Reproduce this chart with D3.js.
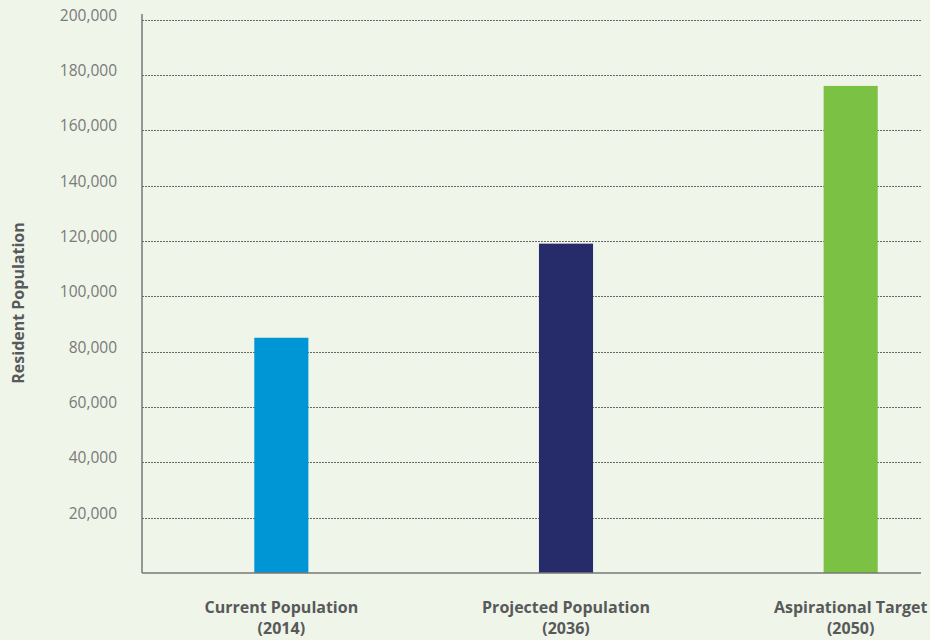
<!DOCTYPE html>
<html lang="en">
<head>
    <meta charset="utf8">
    <title>Resident Population</title>
    <script src="https://d3js.org/d3.v7.min.js"></script>
    <style>
        body { margin: 0; background: #eff5e8; }
        svg { display: block; font-family: "Open Sans", sans-serif; }
    </style>
</head>
<body>
    <svg id="chart" width="930" height="640"></svg>
    <script>
        // data
        const categories = ["Current Population", "Projected Population", "Aspirational Target"];
        const years = ["(2014)", "(2036)", "(2050)"];
        const values = [85000, 119000, 176000];
        const colors = ["#0096d6", "#262b69", "#7bc143"];
        const yTicks = [20000, 40000, 60000, 80000, 100000, 120000, 140000, 160000, 180000, 200000];

        const svg = d3.select("#chart");
        const plotLeft = 142, plotRight = 921, plotTop = 19.5, plotBottom = 573;

        const x = d3.scaleBand()
            .domain(categories)
            .range([139, 993])
            .paddingInner(0.81)
            .paddingOuter(0.405);

        const y = d3.scaleLinear()
            .domain([0, 200000])
            .range([plotBottom, plotTop]);

        // gridlines
        svg.append("g")
            .selectAll("line")
            .data(yTicks)
            .join("line")
            .attr("x1", plotLeft)
            .attr("x2", plotRight)
            .attr("y1", d => Math.round(y(d)) + 0.5)
            .attr("y2", d => Math.round(y(d)) + 0.5)
            .attr("stroke", "#666")
            .attr("stroke-width", 1)
            .attr("stroke-dasharray", "2,1");

        // tick labels
        svg.append("g")
            .selectAll("text")
            .data(yTicks)
            .join("text")
            .attr("x", 117)
            .attr("y", d => y(d) - 3)
            .attr("text-anchor", "end")
            .attr("dominant-baseline", "middle")
            .attr("fill", "#7a7a7a")
            .attr("font-size", 15.5)
            .text(d => d3.format(",")(d));

        // bars
        svg.append("g")
            .selectAll("rect")
            .data(values)
            .join("rect")
            .attr("x", (d, i) => x(categories[i]))
            .attr("width", x.bandwidth())
            .attr("y", d => y(d))
            .attr("height", d => plotBottom - y(d))
            .attr("fill", (d, i) => colors[i]);

        // axes lines
        svg.append("line")
            .attr("x1", plotLeft).attr("x2", plotLeft)
            .attr("y1", 14).attr("y2", plotBottom)
            .attr("stroke", "#777").attr("stroke-width", 1.5);
        svg.append("line")
            .attr("x1", plotLeft).attr("x2", plotRight)
            .attr("y1", plotBottom).attr("y2", plotBottom)
            .attr("stroke", "#777").attr("stroke-width", 1.5);

        // category labels
        const labels = svg.append("g")
            .selectAll("text")
            .data(categories)
            .join("text")
            .attr("text-anchor", "middle")
            .attr("fill", "#58595b")
            .attr("font-size", 16)
            .attr("font-weight", "bold");
        labels.append("tspan")
            .attr("x", d => Math.min(x(d) + x.bandwidth() / 2, 851))
            .attr("y", 613)
            .text(d => d);
        labels.append("tspan")
            .attr("x", d => Math.min(x(d) + x.bandwidth() / 2, 851))
            .attr("y", 634)
            .text((d, i) => years[i]);

        // y axis title
        svg.append("text")
            .attr("transform", "translate(24,303) rotate(-90)")
            .attr("text-anchor", "middle")
            .attr("fill", "#58595b")
            .attr("font-size", 16)
            .attr("font-weight", "bold")
            .text("Resident Population");
    </script>
</body>
</html>
